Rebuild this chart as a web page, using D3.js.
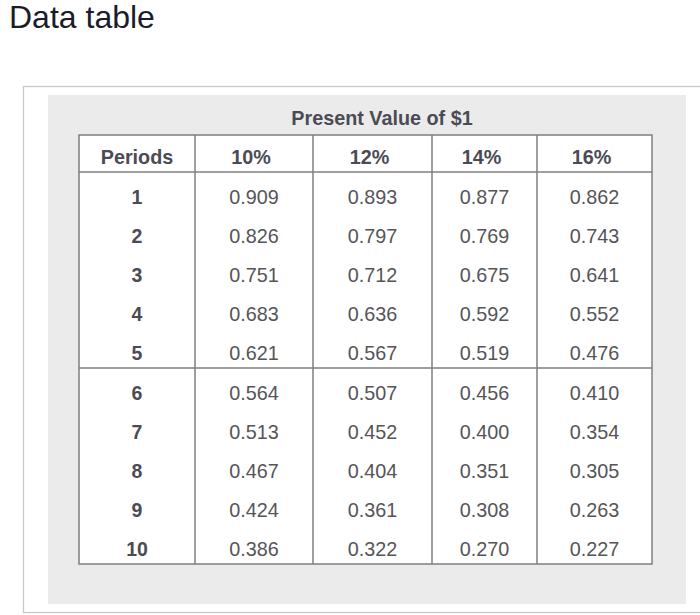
<!DOCTYPE html>
<html>
<head>
<meta charset="utf-8">
<script src="https://cdn.jsdelivr.net/npm/d3@7"></script>
<style>
  html, body { margin: 0; padding: 0; background: #ffffff; }
  svg { display: block; font-family: "Liberation Sans", Arial, Helvetica, sans-serif; }
</style>
</head>
<body>
<svg id="chart" width="700" height="615"></svg>
<script>
// ---- data ----
const title = "Data table";
const tableTitle = "Present Value of $1";
const periodHeader = "Periods";
const periods = [1, 2, 3, 4, 5, 6, 7, 8, 9, 10];
const rates = ["10%", "12%", "14%", "16%"];
const pv10 = ["0.909", "0.826", "0.751", "0.683", "0.621", "0.564", "0.513", "0.467", "0.424", "0.386"];
const pv12 = ["0.893", "0.797", "0.712", "0.636", "0.567", "0.507", "0.452", "0.404", "0.361", "0.322"];
const pv14 = ["0.877", "0.769", "0.675", "0.592", "0.519", "0.456", "0.400", "0.351", "0.308", "0.270"];
const pv16 = ["0.862", "0.743", "0.641", "0.552", "0.476", "0.410", "0.354", "0.305", "0.263", "0.227"];
const series = [pv10, pv12, pv14, pv16];

// ---- layout ----
const svg = d3.select("#chart");
const colKeys = [periodHeader, ...rates];
const colEdges = [79, 195, 313, 432, 537, 652];
const xLeft = d3.scaleOrdinal().domain(colKeys).range(colEdges.slice(0, 5));
const xRight = d3.scaleOrdinal().domain(colKeys).range(colEdges.slice(1));
const xMid = k => (xLeft(k) + xRight(k)) / 2;
const headerTop = 135, bodyTop = 172, bodyBottom = 564;
const y = d3.scaleBand().domain(periods).range([bodyTop, bodyBottom]);
const lineColor = "#7f7f7f";

// title
svg.append("text").attr("x", 9).attr("y", 28)
  .attr("font-size", 32).attr("fill", "#1b1c2a").text(title);

// outer frame
svg.append("rect").attr("x", 23.5).attr("y", 86.5).attr("width", 700).attr("height", 526)
  .attr("fill", "#ffffff").attr("stroke", "#c9c9c9").attr("stroke-width", 1.3);
// gray panel
svg.append("rect").attr("x", 48).attr("y", 95).attr("width", 638).attr("height", 509)
  .attr("fill", "#ebebeb");

// table background
svg.append("rect").attr("x", colEdges[0]).attr("y", headerTop)
  .attr("width", colEdges[5] - colEdges[0]).attr("height", bodyBottom - headerTop)
  .attr("fill", "#ffffff");

// table title
svg.append("text").attr("x", 382).attr("y", 125).attr("text-anchor", "middle")
  .attr("font-size", 19.8).attr("font-weight", "bold").attr("fill", "#4b4b55").text(tableTitle);

// header texts
svg.selectAll("text.hdr").data(colKeys).join("text").attr("class", "hdr")
  .attr("x", d => xMid(d) - (d === periodHeader ? 0 : 3)).attr("y", 164)
  .attr("text-anchor", "middle").attr("font-size", 19.8).attr("font-weight", "bold")
  .attr("fill", "#4b4b55").text(d => d);

// period column
svg.selectAll("text.per").data(periods).join("text").attr("class", "per")
  .attr("x", xMid(periodHeader)).attr("y", d => y(d) + 31.5)
  .attr("text-anchor", "middle").attr("font-size", 19.5).attr("font-weight", "bold")
  .attr("fill", "#4b4b55").text(d => d);

// values
rates.forEach((r, ci) => {
  svg.selectAll("text.v" + ci).data(series[ci]).join("text").attr("class", "v" + ci)
    .attr("x", xMid(r)).attr("y", (d, i) => y(periods[i]) + 31.5)
    .attr("text-anchor", "middle").attr("font-size", 19.8)
    .attr("fill", "#555559").text(d => d);
});

// grid lines
const g = svg.append("g").attr("stroke", lineColor).attr("stroke-width", 1.5).attr("fill", "none");
g.append("rect").attr("x", colEdges[0]).attr("y", headerTop)
  .attr("width", colEdges[5] - colEdges[0]).attr("height", bodyBottom - headerTop);
colEdges.slice(1, 5).forEach(xe => {
  g.append("line").attr("x1", xe).attr("x2", xe).attr("y1", headerTop).attr("y2", bodyBottom);
});
g.append("line").attr("x1", colEdges[0]).attr("x2", colEdges[5]).attr("y1", bodyTop).attr("y2", bodyTop);
g.append("line").attr("x1", colEdges[0]).attr("x2", colEdges[5])
  .attr("y1", y(6)).attr("y2", y(6));
</script>
</body>
</html>
